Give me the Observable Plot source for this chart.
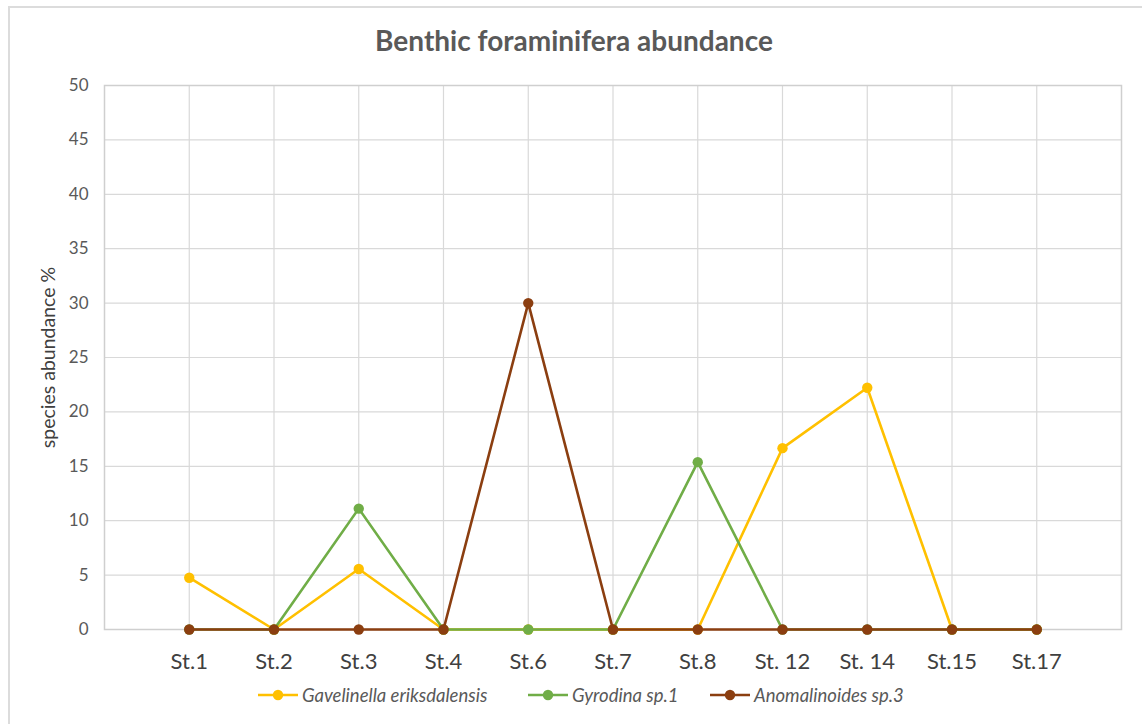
<!DOCTYPE html>
<html>
<head>
<meta charset="utf-8">
<script src="https://cdn.jsdelivr.net/npm/d3@7"></script>
<script src="https://cdn.jsdelivr.net/npm/@observablehq/plot@0.6"></script>
<style>
  html, body { margin: 0; padding: 0; background: #ffffff; }
  #chart { position: relative; width: 1142px; height: 724px; overflow: hidden; font-family: Lato, "Open Sans", sans-serif; }
  #border { position: absolute; left: 8px; top: 6px; width: 1160px; height: 740px; border: 2px solid #dcdcdc; box-sizing: border-box; }
  #title { position: absolute; left: 0; width: 1148px; top: 23px; text-align: center; font-size: 28px; font-weight: 700; color: #595959; }
  #plot { position: absolute; left: 0; top: 0; }
  #legend { position: absolute; top: 684px; left: 0; width: 1142px; height: 22px; }
  .item { position: absolute; top: 0; display: flex; align-items: center; font-style: italic; font-size: 18.5px; color: #595959; }
  .item svg { margin-right: 4px; }
</style>
</head>
<body>
<div id="chart">
  <div id="border"></div>
  <div id="title">Benthic foraminifera abundance</div>
  <div id="plot"></div>
  <div id="legend"></div>
</div>
<script>
// Sampling stations along the x axis
const stations = ["St.1", "St.2", "St.3", "St.4", "St.6", "St.7", "St.8", "St. 12", "St. 14", "St.15", "St.17"];

// Species abundance (%) at each station
const gavelinella   = [4.76, 0, 5.56, 0, 0, 0, 0, 16.67, 22.22, 0, 0];
const gyrodina      = [0, 0, 11.11, 0, 0, 0, 15.38, 0, 0, 0, 0];
const anomalinoides = [0, 0, 0, 0, 30, 0, 0, 0, 0, 0, 0];

const seriesNames  = ["Gavelinella eriksdalensis", "Gyrodina sp.1", "Anomalinoides sp.3"];
const seriesColors = ["#ffc000", "#70ad47", "#8b3e10"];
const seriesValues = [gavelinella, gyrodina, anomalinoides];

const yTicks = d3.range(0, 51, 5);
const yLabel = "species abundance %";

// Long-format table, drawn in series order so the later series sit on top
const rows = seriesValues.flatMap((vals, s) =>
  vals.map((v, i) => ({station: stations[i], value: v, series: seriesNames[s]}))
);

const grid = "#d9d9d9";

const marks = [
  Plot.gridY(yTicks, {stroke: grid, strokeOpacity: 1, strokeWidth: 1.2}),
  Plot.gridX(stations, {stroke: grid, strokeOpacity: 1, strokeWidth: 1.2}),
  Plot.frame({stroke: "#cfcfcf", strokeWidth: 1.5}),
  Plot.axisY(yTicks, {tickSize: 0, tickPadding: 16, fontSize: 17, fill: "#595959", label: null}),
  Plot.axisX(stations, {tickSize: 0, tickPadding: 24, fontSize: 22, fill: "#404040", label: null}),
  Plot.text([yLabel], {frameAnchor: "left", textAnchor: "middle", dx: -56, rotate: -90, fontSize: 19.5, fill: "#404040"})
];

seriesNames.forEach((name, s) => {
  const data = rows.filter(d => d.series === name);
  marks.push(
    Plot.line(data, {x: "station", y: "value", stroke: seriesColors[s], strokeWidth: 2.6}),
    Plot.dot(data, {x: "station", y: "value", fill: seriesColors[s], r: 5.2})
  );
});

const chart = Plot.plot({
  width: 1142,
  height: 680,
  marginTop: 85,
  marginBottom: 51,
  marginLeft: 104,
  marginRight: 21,
  style: {fontFamily: "Lato, 'Open Sans', sans-serif", background: "transparent", overflow: "visible"},
  x: {type: "point", domain: stations, padding: 1, round: false},
  y: {domain: [0, 50]},
  marks
});
document.getElementById("plot").appendChild(chart);

// Legend: line-with-dot swatch followed by italic species name
const legendLeft = [258, 528, 710];
const legend = document.getElementById("legend");
seriesNames.forEach((name, s) => {
  const item = document.createElement("div");
  item.className = "item";
  item.style.left = legendLeft[s] + "px";
  const c = seriesColors[s];
  item.innerHTML =
    `<svg width="40" height="22"><line x1="0" y1="11" x2="40" y2="11" stroke="${c}" stroke-width="2.6"/>` +
    `<circle cx="20" cy="11" r="5.2" fill="${c}"/></svg><span>${name}</span>`;
  legend.appendChild(item);
});
</script>
</body>
</html>
